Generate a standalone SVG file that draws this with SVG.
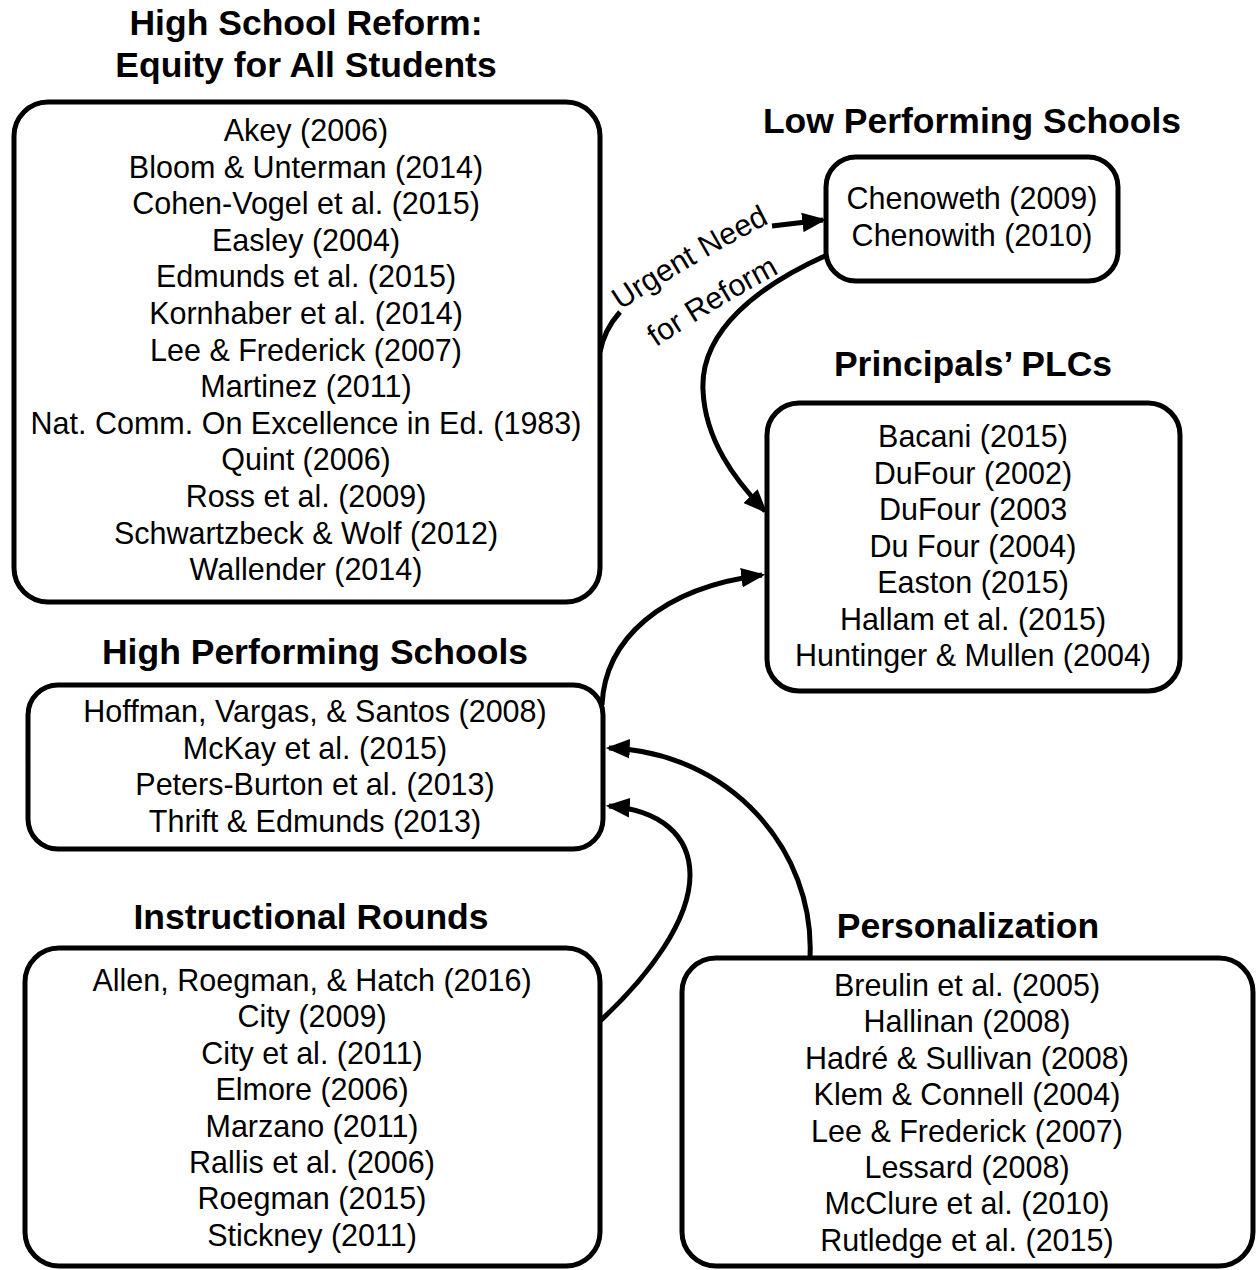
<svg xmlns="http://www.w3.org/2000/svg" width="1256" height="1270" viewBox="0 0 1256 1270">
<defs>
<style>
.box{fill:#fff;stroke:#000;stroke-width:5}
.t{font-family:"Liberation Sans",Arial,sans-serif;font-size:30.5px;fill:#000;text-anchor:middle}
.h{font-family:"Liberation Sans",Arial,sans-serif;font-size:35.5px;font-weight:bold;fill:#000;text-anchor:middle}
.c{fill:none;stroke:#000;stroke-width:5}
.lab{font-family:"Liberation Sans",Arial,sans-serif;font-size:30.5px;fill:#000}
</style>
<marker id="ah" markerUnits="userSpaceOnUse" markerWidth="24" markerHeight="20" viewBox="0 0 22 18" refX="19" refY="9" orient="auto">
<path d="M0,0 L22,9 L0,18 z" fill="#000"/>
</marker>
<path id="lp1" d="M618,312 Q700,258 772,222"/>
<path id="lp2" d="M643,356 Q723,302 793,266"/>
</defs>
<rect width="1256" height="1270" fill="#fff"/>

<g id="connectors">
<path class="c" d="M600,352 Q604,330 620,312"/>
<path class="c" d="M772,226 L823,220" marker-end="url(#ah)"/>
<path class="c" d="M827,255 C760,285 700,330 703,390 C705,440 735,480 765,511" marker-end="url(#ah)"/>
<path class="c" d="M602,705 C605,640 660,588 762,575" marker-end="url(#ah)"/>
<path class="c" d="M810,957 C815,850 730,752 609,748" marker-end="url(#ah)"/>
<path class="c" d="M599,1022 C650,975 690,920 690,875 C690,835 660,810 609,806" marker-end="url(#ah)"/>
<text class="lab"><textPath href="#lp1" startOffset="50%" text-anchor="middle">Urgent Need</textPath></text>
<text class="lab"><textPath href="#lp2" startOffset="50%" text-anchor="middle">for Reform</textPath></text>
</g>

<g id="reform">
<text class="h" x="306" y="35">High School Reform:</text>
<text class="h" x="306" y="77">Equity for All Students</text>
<rect class="box" x="14" y="102" width="586" height="500" rx="34"/>
<text class="t" x="306" y="141">Akey (2006)</text>
<text class="t" x="306" y="177.6">Bloom &amp; Unterman (2014)</text>
<text class="t" x="306" y="214.2">Cohen-Vogel et al. (2015)</text>
<text class="t" x="306" y="250.8">Easley (2004)</text>
<text class="t" x="306" y="287.4">Edmunds et al. (2015)</text>
<text class="t" x="306" y="324">Kornhaber et al. (2014)</text>
<text class="t" x="306" y="360.6">Lee &amp; Frederick (2007)</text>
<text class="t" x="306" y="397.2">Martinez (2011)</text>
<text class="t" x="306" y="433.8">Nat. Comm. On Excellence in Ed. (1983)</text>
<text class="t" x="306" y="470.4">Quint (2006)</text>
<text class="t" x="306" y="507">Ross et al. (2009)</text>
<text class="t" x="306" y="543.6">Schwartzbeck &amp; Wolf (2012)</text>
<text class="t" x="306" y="580.2">Wallender (2014)</text>
</g>

<g id="low">
<text class="h" x="972" y="133">Low Performing Schools</text>
<rect class="box" x="826" y="157" width="292" height="124" rx="30"/>
<text class="t" x="972" y="209">Chenoweth (2009)</text>
<text class="t" x="972" y="246">Chenowith (2010)</text>
</g>

<g id="plcs">
<text class="h" x="973" y="376">Principals’ PLCs</text>
<rect class="box" x="767" y="403" width="413" height="288" rx="32"/>
<text class="t" x="973" y="447">Bacani (2015)</text>
<text class="t" x="973" y="483.5">DuFour (2002)</text>
<text class="t" x="973" y="520">DuFour (2003</text>
<text class="t" x="973" y="556.5">Du Four (2004)</text>
<text class="t" x="973" y="593">Easton (2015)</text>
<text class="t" x="973" y="629.5">Hallam et al. (2015)</text>
<text class="t" x="973" y="666">Huntinger &amp; Mullen (2004)</text>
</g>

<g id="high">
<text class="h" x="315" y="664">High Performing Schools</text>
<rect class="box" x="28" y="685" width="575" height="164" rx="30"/>
<text class="t" x="315" y="722">Hoffman, Vargas, &amp; Santos (2008)</text>
<text class="t" x="315" y="758.5">McKay et al. (2015)</text>
<text class="t" x="315" y="795">Peters-Burton et al. (2013)</text>
<text class="t" x="315" y="831.5">Thrift &amp; Edmunds (2013)</text>
</g>

<g id="rounds">
<text class="h" x="311" y="929">Instructional Rounds</text>
<rect class="box" x="25" y="948" width="575" height="318" rx="34"/>
<text class="t" x="312" y="991">Allen, Roegman, &amp; Hatch (2016)</text>
<text class="t" x="312" y="1027.4">City (2009)</text>
<text class="t" x="312" y="1063.8">City et al. (2011)</text>
<text class="t" x="312" y="1100.2">Elmore (2006)</text>
<text class="t" x="312" y="1136.6">Marzano (2011)</text>
<text class="t" x="312" y="1173">Rallis et al. (2006)</text>
<text class="t" x="312" y="1209.4">Roegman (2015)</text>
<text class="t" x="312" y="1245.8">Stickney (2011)</text>
</g>

<g id="personalization">
<text class="h" x="968" y="938">Personalization</text>
<rect class="box" x="682" y="958" width="571" height="308" rx="34"/>
<text class="t" x="967" y="996">Breulin et al. (2005)</text>
<text class="t" x="967" y="1032.4">Hallinan (2008)</text>
<text class="t" x="967" y="1068.8">Hadré &amp; Sullivan (2008)</text>
<text class="t" x="967" y="1105.2">Klem &amp; Connell (2004)</text>
<text class="t" x="967" y="1141.6">Lee &amp; Frederick (2007)</text>
<text class="t" x="967" y="1178">Lessard (2008)</text>
<text class="t" x="967" y="1214.4">McClure et al. (2010)</text>
<text class="t" x="967" y="1250.8">Rutledge et al. (2015)</text>
</g>
</svg>
